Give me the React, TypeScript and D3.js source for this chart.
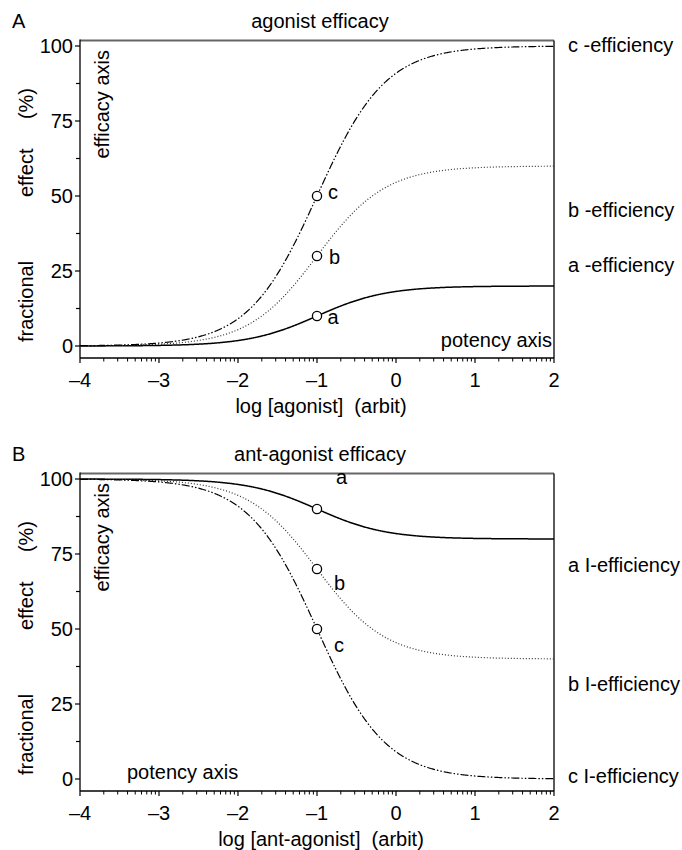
import React from "react";
import * as d3 from "d3";

// Concentration axis (log units) and response axis (%)
const X_DOMAIN: [number, number] = [-4, 2];
const X_MAJOR_TICKS = [-4, -3, -2, -1, 0, 1, 2];
const Y_MAJOR_TICKS = [0, 25, 50, 75, 100];
const Y_MINOR_TICKS = [12.5, 37.5, 62.5, 87.5];

// Curve identifiers
const CURVE_IDS = ["a", "b", "c"];

// Concentration-response parameters
const LOG_EC50 = -1;
const HILL_SLOPE = 1;
const AGONIST_EMAX = [20, 60, 100];
const ANTAGONIST_IMAX = [20, 60, 100];

// Marked half-maximal responses at log EC50
const AGONIST_HALF_POINTS = [10, 30, 50];
const ANTAGONIST_HALF_POINTS = [90, 70, 50];

// Right-hand annotations
const AGONIST_END_LABELS = ["a -efficiency", "b -efficiency", "c -efficiency"];
const ANTAGONIST_END_LABELS = ["a I-efficiency", "b I-efficiency", "c I-efficiency"];

// Y-axis title words
const Y_TITLE_WORDS = ["fractional", "effect", "(%)"];

const FONT = "'Liberation Sans', Arial, Helvetica, sans-serif";
const DASHES = [null, "1,2", "8,2,1.5,2,1.5,2"];
const WIDTHS = [1.5, 1.2, 1.2];
const STROKES = ["#000", "#333", "#000"];

const W = 682;
const H = 850;

function occupancy(logX: number) {
  const x = Math.pow(10, logX * HILL_SLOPE);
  const k = Math.pow(10, LOG_EC50 * HILL_SLOPE);
  return x / (x + k);
}

type PanelProps = {
  letter: string;
  title: string;
  xLabel: string;
  y0: number; // pixel row of 0 %
  agonist: boolean;
  endLabels: string[];
  endLabelValues: number[];
  pointLabelOffsets: [number, number][];
  potency: { x: number; v: number; anchor: string };
};

function Panel(p: PanelProps) {
  const x = d3.scaleLinear().domain(X_DOMAIN).range([80, 554]);
  const y = d3.scaleLinear().domain([0, 100]).range([p.y0, p.y0 - 300]);
  const top = y(101.8);
  const bottom = p.y0 + 12;
  const samples = d3.range(X_DOMAIN[0], X_DOMAIN[1] + 1e-9, 0.01);
  const line = d3
    .line<number>()
    .x((d) => x(d))
    .curve(d3.curveLinear);

  const minorX: number[] = [];
  for (let dec = X_DOMAIN[0]; dec < X_DOMAIN[1]; dec++) {
    for (let k = 2; k <= 9; k++) minorX.push(dec + Math.log10(k));
  }

  const amps = p.agonist ? AGONIST_EMAX : ANTAGONIST_IMAX;
  const halfPts = p.agonist ? AGONIST_HALF_POINTS : ANTAGONIST_HALF_POINTS;

  // rotated y-title words: [anchor row, text-anchor]
  const yTitlePlacement: [number, string][] = [
    [p.y0 - 4, "start"],
    [p.y0 - 149, "start"],
    [p.y0 - 258, "end"],
  ];

  return (
    <g fontFamily={FONT} fontSize={20} fill="#000">
      <text x={12} y={y(0) - 300 - 18} fontSize={20}>
        {p.letter}
      </text>
      <text x={320} y={y(0) - 300 - 18} textAnchor="middle">
        {p.title}
      </text>

      {/* frame */}
      <line x1={80} x2={554} y1={top} y2={top} stroke="#666" strokeWidth={2} />
      <line x1={554} x2={554} y1={top} y2={bottom} stroke="#000" strokeWidth={1.3} />
      <line x1={80} x2={80} y1={top - 1} y2={bottom} stroke="#000" strokeWidth={1.3} />
      <line x1={80} x2={554} y1={bottom} y2={bottom} stroke="#000" strokeWidth={1.3} />

      {/* y ticks */}
      {Y_MAJOR_TICKS.map((v) => (
        <g key={"ym" + v}>
          <line x1={75} x2={80} y1={y(v)} y2={y(v)} stroke="#000" strokeWidth={1.2} />
          <text x={73} y={y(v) + 7} textAnchor="end">
            {v}
          </text>
        </g>
      ))}
      {Y_MINOR_TICKS.map((v) => (
        <line key={"yn" + v} x1={76} x2={80} y1={y(v)} y2={y(v)} stroke="#000" strokeWidth={1.2} />
      ))}

      {/* x ticks */}
      {X_MAJOR_TICKS.map((v) => (
        <g key={"xm" + v}>
          <line x1={x(v)} x2={x(v)} y1={bottom} y2={bottom + 5} stroke="#000" strokeWidth={1.2} />
          <text x={x(v)} y={bottom + 29} textAnchor="middle">
            {v < 0 ? "\u2013" + Math.abs(v) : String(v)}
          </text>
        </g>
      ))}
      {minorX.map((v, i) => (
        <line key={"xn" + i} x1={x(v)} x2={x(v)} y1={bottom} y2={bottom + 3.5} stroke="#000" strokeWidth={1} />
      ))}

      <text x={321} y={bottom + 55} textAnchor="middle" style={{ whiteSpace: "pre" }}>
        {p.xLabel}
      </text>
      {Y_TITLE_WORDS.map((w, i) => (
        <text
          key={"yt" + i}
          transform={`translate(33, ${yTitlePlacement[i][0]}) rotate(-90)`}
          textAnchor={yTitlePlacement[i][1]}
        >
          {w}
        </text>
      ))}
      <text transform={`translate(109, ${y(100) + 4}) rotate(-90)`} textAnchor="end">
        efficacy axis
      </text>
      <text x={p.potency.x} y={y(p.potency.v)} textAnchor={p.potency.anchor}>
        potency axis
      </text>

      {/* curves */}
      {CURVE_IDS.map((id, i) => {
        const path = line.y((d) =>
          y(p.agonist ? amps[i] * occupancy(d) : 100 - amps[i] * occupancy(d))
        )(samples);
        return (
          <path
            key={"c" + id}
            d={path || ""}
            fill="none"
            stroke={STROKES[i]}
            strokeWidth={WIDTHS[i]}
            strokeDasharray={DASHES[i] || undefined}
          />
        );
      })}

      {/* half-maximal markers */}
      {CURVE_IDS.map((id, i) => (
        <g key={"p" + id}>
          <circle cx={x(LOG_EC50)} cy={y(halfPts[i])} r={4.6} fill="#fff" stroke="#000" strokeWidth={1.3} />
          <text x={x(LOG_EC50) + p.pointLabelOffsets[i][0]} y={y(halfPts[i]) + p.pointLabelOffsets[i][1]}>
            {id}
          </text>
        </g>
      ))}

      {/* right annotations */}
      {p.endLabels.map((t, i) => (
        <text key={"e" + i} x={568} y={y(p.endLabelValues[i])}>
          {t}
        </text>
      ))}
    </g>
  );
}

export default function App() {
  return (
    <svg width={W} height={H} style={{ display: "block", position: "absolute", left: 0, top: 0 }}>
      <rect width={W} height={H} fill="#fff" />
      <Panel
        letter="A"
        title="agonist efficacy"
        xLabel="log [agonist]  (arbit)"
        y0={346}
        agonist={true}
        endLabels={AGONIST_END_LABELS}
        endLabelValues={[24.7, 43, 98]}
        pointLabelOffsets={[
          [10.5, 8],
          [12, 8],
          [11, 3],
        ]}
        potency={{ x: 552, v: -0.3, anchor: "end" }}
      />
      <Panel
        letter="B"
        title="ant-agonist efficacy"
        xLabel="log [ant-agonist]  (arbit)"
        y0={779}
        agonist={false}
        endLabels={ANTAGONIST_END_LABELS}
        endLabelValues={[69, 29.3, -1.3]}
        pointLabelOffsets={[
          [19, -25],
          [17, 21],
          [17, 23],
        ]}
        potency={{ x: 127, v: 0, anchor: "start" }}
      />
    </svg>
  );
}
